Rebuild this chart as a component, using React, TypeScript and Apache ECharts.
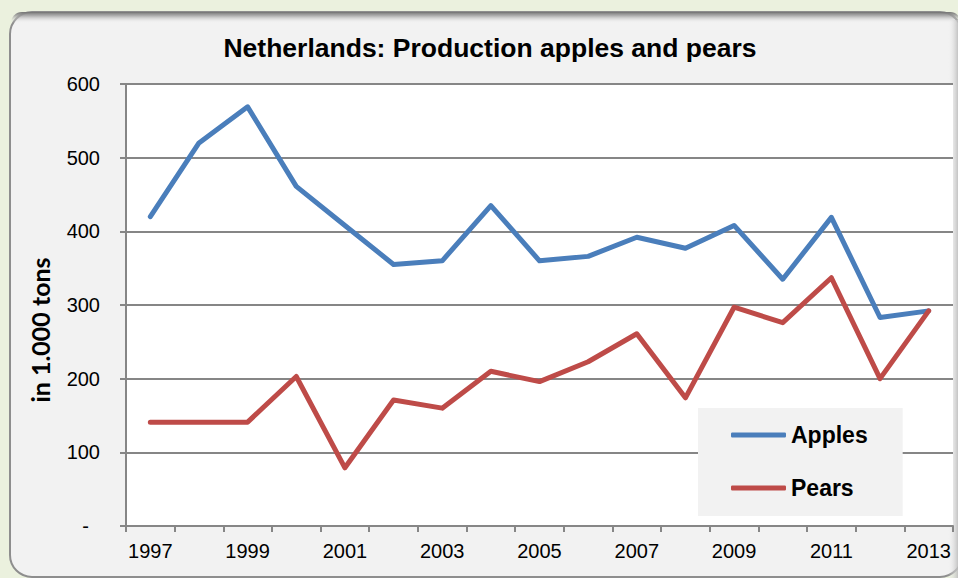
import React, { useEffect, useRef } from "react";
import * as echarts from "echarts";

const years = ["1997", "1998", "1999", "2000", "2001", "2002", "2003", "2004", "2005", "2006", "2007", "2008", "2009", "2010", "2011", "2012", "2013"];
const apples = [420, 520, 569, 461, 408, 355, 360, 435, 360, 366, 392, 377, 408, 335, 419, 283, 292];
const pears = [141, 141, 141, 203, 79, 171, 160, 210, 196, 223, 261, 174, 297, 276, 337, 200, 292];
const titleText = "Netherlands: Production apples and pears";
const yAxisName = "in 1.000 tons";
const seriesNames = ["Apples", "Pears"];

const FONT = "'Liberation Sans', Arial, sans-serif";

export default function App() {
  const ref = useRef<HTMLDivElement>(null);
  useEffect(() => {
    if (!ref.current) return;
    const chart = echarts.init(ref.current, null, { renderer: "svg" });
    chart.setOption({
      animation: false,
      backgroundColor: "#ebf1de",
      graphic: [
        {
          type: "rect",
          z: -10,
          shape: { x: 10, y: 12, width: 952, height: 565, r: 22 },
          style: { fill: "#f2f2f2", stroke: "#8e8e8e", lineWidth: 2 },
        },
        {
          type: "rect",
          z: -9,
          shape: { x: 11, y: 12, width: 950, height: 11, r: [21, 21, 0, 0] },
          style: {
            fill: new echarts.graphic.LinearGradient(0, 0, 0, 1, [
              { offset: 0, color: "rgba(115,115,115,1)" },
              { offset: 0.35, color: "rgba(160,160,160,0.8)" },
              { offset: 1, color: "rgba(242,242,242,0)" },
            ]),
          },
        },
        {
          type: "rect",
          z: -9,
          shape: { x: 948, y: 20, width: 10, height: 558 },
          style: {
            fill: new echarts.graphic.LinearGradient(0, 0, 1, 0, [
              { offset: 0, color: "rgba(242,242,242,0)" },
              { offset: 1, color: "rgba(190,190,190,0.9)" },
            ]),
          },
        },
        {
          type: "text",
          z: 10,
          x: 490,
          y: 48,
          style: {
            text: titleText,
            fontFamily: FONT,
            fontSize: 26.5,
            fontWeight: "bold",
            fill: "#000",
            align: "center",
            verticalAlign: "middle",
          },
        },
        {
          type: "text",
          z: 10,
          x: 40,
          y: 330,
          rotation: Math.PI / 2,
          style: {
            text: yAxisName,
            fontFamily: "Lato, 'Open Sans', sans-serif",
            fontSize: 25,
            fontWeight: "bold",
            fill: "#000",
            align: "center",
            verticalAlign: "middle",
          },
        },
      ],
      grid: {
        left: 126,
        top: 84,
        right: 5,
        bottom: 52,
        show: true,
        backgroundColor: "#ffffff",
        borderWidth: 0,
        containLabel: false,
      },
      legend: {
        orient: "vertical",
        left: 698,
        top: 408,
        padding: [15, 35, 16, 33],
        backgroundColor: "#f2f2f2",
        itemGap: 29,
        itemWidth: 55,
        itemHeight: 5,
        icon: "roundRect",
        data: seriesNames,
        textStyle: {
          fontFamily: FONT,
          fontSize: 23,
          fontWeight: "bold",
          color: "#000",
          lineHeight: 24,
        },
      },
      xAxis: {
        type: "category",
        data: years,
        boundaryGap: true,
        axisLine: { show: true, lineStyle: { color: "#868686", width: 2 } },
        axisTick: { show: true, interval: 0, length: 6, lineStyle: { color: "#868686", width: 2 } },
        axisLabel: { interval: 1, fontFamily: FONT, fontSize: 20, color: "#000", margin: 15 },
        splitLine: { show: false },
      },
      yAxis: {
        type: "value",
        min: 0,
        max: 600,
        interval: 100,
        axisLine: { show: true, lineStyle: { color: "#868686", width: 2 } },
        axisTick: { show: true, length: 6, lineStyle: { color: "#868686", width: 2 } },
        axisLabel: {
          fontFamily: FONT,
          fontSize: 20,
          color: "#000",
          margin: 26,
          formatter: (v: number) => (v === 0 ? "{dash|-}" : String(v)),
          rich: { dash: { fontFamily: FONT, fontSize: 20, color: "#000", padding: [0, 11, 0, 0] } },
        },
        splitLine: { show: true, lineStyle: { color: "#868686", width: 2 } },
      },
      series: [
        {
          name: seriesNames[0],
          type: "line",
          data: apples,
          symbol: "none",
          color: "#4a7ebb",
          lineStyle: { width: 5, color: "#4a7ebb", cap: "round", join: "round" },
        },
        {
          name: seriesNames[1],
          type: "line",
          data: pears,
          symbol: "none",
          color: "#be4b48",
          lineStyle: { width: 5, color: "#be4b48", cap: "round", join: "round" },
        },
      ],
    });
    return () => chart.dispose();
  }, []);
  return <div ref={ref} style={{ position: "fixed", left: 0, top: 0, width: 958, height: 578 }} />;
}
